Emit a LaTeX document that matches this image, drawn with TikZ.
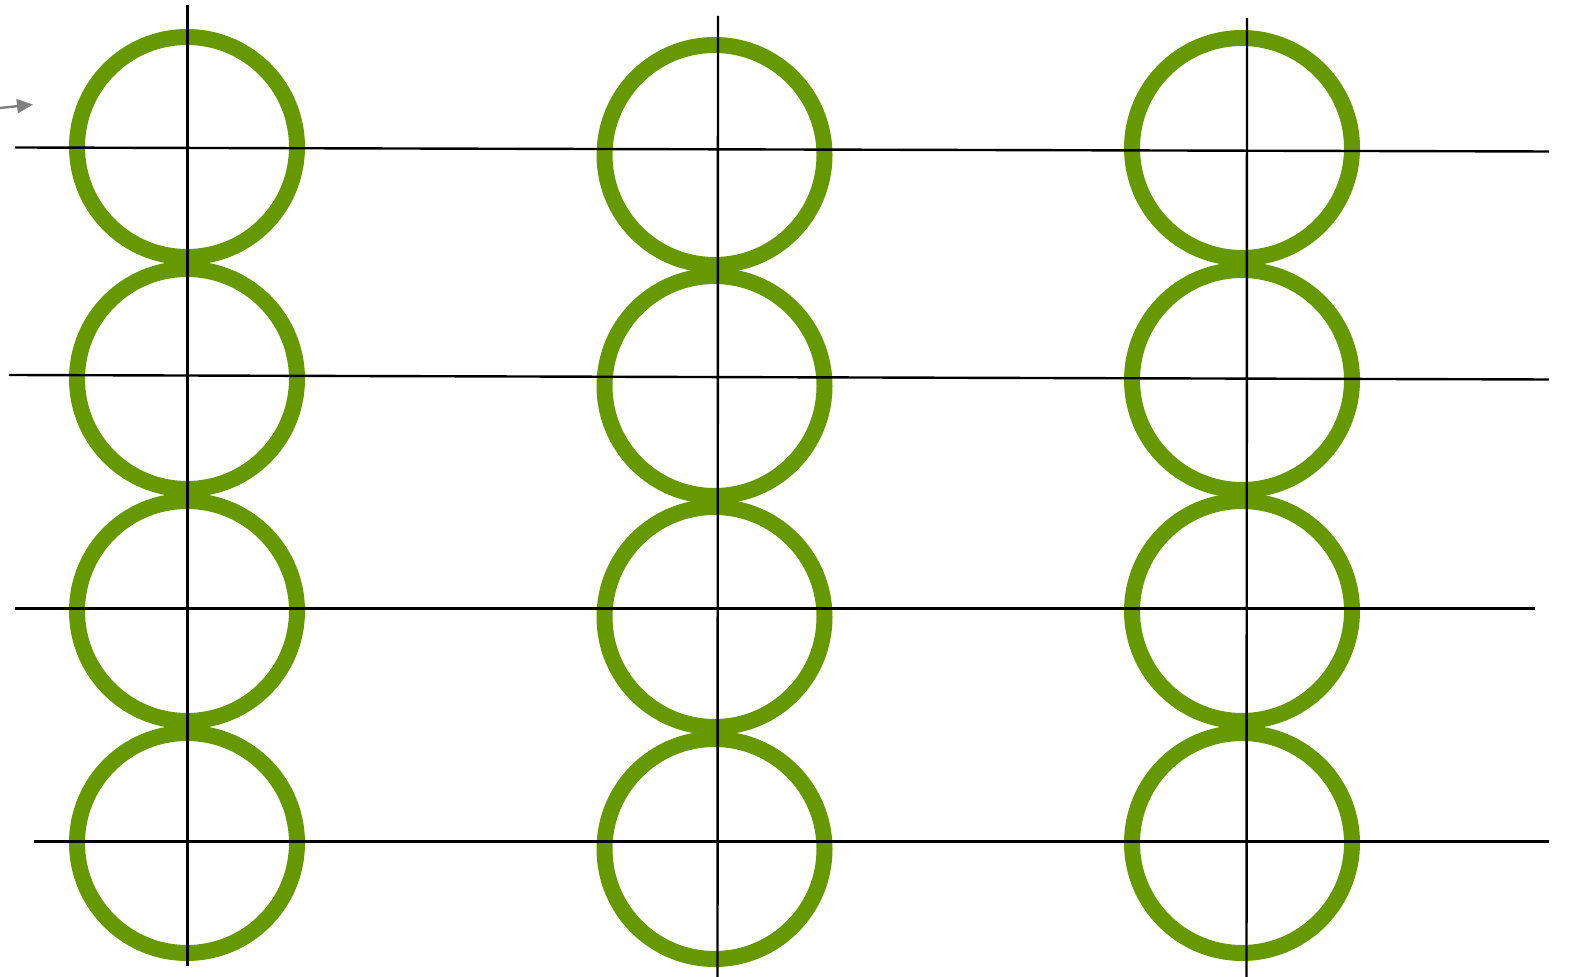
\documentclass[tikz,border=0pt]{standalone}
\usetikzlibrary{arrows.meta}

\definecolor{ringgreen}{RGB}{102,153,0}
\tikzset{
    ring/.style={circle, draw=ringgreen, line width=8pt, inner sep=0pt, minimum size=110pt},
    wire/.style={black, line width=1.2pt},
}

\begin{document}
\begin{tikzpicture}[x=0.5pt, y=-0.5pt]
    \useasboundingbox (0,0) rectangle (1572,977);

    % Rings, column by column
    \foreach \cx/\col/\ya/\yb/\yc/\yd in {187/1/147/379/611/843, 714.5/2/155/386/617/849, 1242/3/148/380/611/843} {
        \node[ring] (r\col a) at (\cx,\ya) {};
        \node[ring] (r\col b) at (\cx,\yb) {};
        \node[ring] (r\col c) at (\cx,\yc) {};
        \node[ring] (r\col d) at (\cx,\yd) {};
    }

    % End points of the horizontal wires
    \coordinate (h1w) at (15,147.5); \coordinate (h1e) at (1549,151.5);
    \coordinate (h2w) at (9,375);    \coordinate (h2e) at (1549,379.5);
    \coordinate (h3w) at (15,608.5); \coordinate (h3e) at (1535,608.5);
    \coordinate (h4w) at (34,841.5); \coordinate (h4e) at (1549,841.5);

    % End points of the vertical wires
    \coordinate (v1n) at (187.5,5);  \coordinate (v1s) at (187.5,966);
    \coordinate (v2n) at (718,16);   \coordinate (v2s) at (717.5,977);
    \coordinate (v3n) at (1247,18);  \coordinate (v3s) at (1246.5,977);

    \foreach \i in {1,2,3,4}
        \draw[wire] (h\i w) -- (h\i e);
    \foreach \i in {1,2,3}
        \draw[wire] (v\i n) -- (v\i s);

    % Small gray arrow at the left edge
    \coordinate (aw) at (0,108);
    \coordinate (ae) at (33,104.5);
    \draw[gray, line width=1.2pt, -{Triangle[length=8pt, width=7pt]}] (aw) -- (ae);
\end{tikzpicture}
\end{document}
